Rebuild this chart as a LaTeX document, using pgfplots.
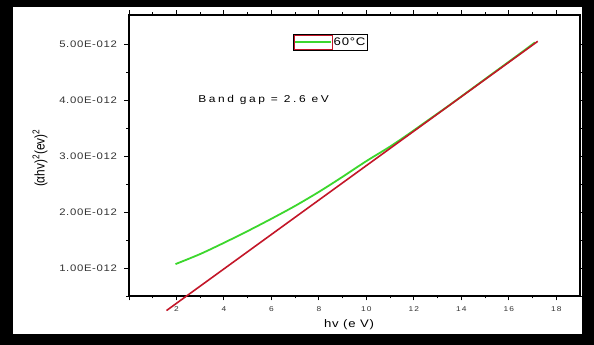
\documentclass[border=0pt]{standalone}
\usepackage{pgfplots}
\pgfplotsset{compat=1.18}
\usepackage{fontspec}
\setmainfont{Liberation Sans}
\newfontfamily\stA[FakeStretch=1.2, LetterSpace=7]{Liberation Sans}
\newfontfamily\stB[FakeStretch=1.2, LetterSpace=26]{Liberation Sans}
\newfontfamily\stX[FakeStretch=1.2, LetterSpace=15]{Liberation Sans}
\newfontfamily\stY[FakeStretch=0.85]{Liberation Sans}
\definecolor{gline}{RGB}{60,215,45}
\definecolor{rline}{RGB}{195,22,40}
\begin{document}
\begin{tikzpicture}
\fill[black] (-129bp,-49bp) rectangle (465bp,296bp);
\fill[white] (-116bp,-38bp) rectangle (453bp,289bp);
\begin{axis}[
  at={(0bp,0bp)}, anchor=south west,
  scale only axis, width=451bp, height=281bp,
  xmin=0, xmax=19, ymin=0.5e-12, ymax=5.52e-12,
  clip=false,
  axis line style={line width=1.1pt},
  tick align=outside,
  major tick length=4.5bp, minor tick length=2.5bp,
  every tick/.style={black, line width=0.9pt},
  xtick={0,2,...,18}, xticklabels={,2,4,6,8,10,12,14,16,18},
  minor x tick num=1,
  ytick={1e-12,2e-12,3e-12,4e-12,5e-12},
  yticklabels={1.00E-012,2.00E-012,3.00E-012,4.00E-012,5.00E-012},
  minor ytick={0.5e-12,1.5e-12,2.5e-12,3.5e-12,4.5e-12},
  scaled y ticks=false,
  /pgf/number format/assume math mode=true,
  xticklabel style={font=\stX\fontsize{7}{8}\selectfont, text=black!80, yshift=-3bp},
  yticklabel style={font=\stA\fontsize{9.5}{10}\selectfont, text=black!80, xshift=-4bp},
  legend style={at={(0.446,0.904)}, anchor=center, draw=black, line width=0.6pt,
    inner sep=0.5bp, font=\stA\fontsize{11}{12}\selectfont,
    nodes={inner sep=1bp}},
  legend cell align=left,
]
\addplot[gline, line width=1.8pt, smooth,
  legend image code/.code={
    \draw[rline, line width=0.8pt] (0bp,-7bp) rectangle (38bp,7bp);
    \draw[gline, line width=1.8pt] (1bp,0bp) -- (37bp,0bp);}]
coordinates {
(1.96,1.07e-12) (3,1.25e-12) (4,1.45e-12) (5,1.66e-12) (6,1.88e-12)
(7,2.11e-12) (8,2.36e-12) (9,2.63e-12) (10,2.91e-12) (11,3.17e-12)
(11.8,3.40e-12) (12.5,3.61e-12) (13.5,3.91e-12) (14.5,4.22e-12) (15.5,4.53e-12)
(16.5,4.84e-12) (17.1,5.03e-12)};
\addlegendentry{60°C}
\addplot[rline, line width=1.6pt, forget plot] coordinates {(1.58,0.24e-12) (17.22,5.05e-12)};
\node[anchor=west, font=\stB\fontsize{10}{12}\selectfont] at (rel axis cs:0.146,0.698) {Band gap = 2.6 eV};
\end{axis}
\node[font=\stA\fontsize{11}{12}\selectfont] at (220bp,-29bp) {hv (e V)};
\node[rotate=90, font=\stY\fontsize{14}{15}\selectfont] at (-89bp,138bp) {(αhv)\textsuperscript{2}(ev)\textsuperscript{2}};
\end{tikzpicture}
\end{document}
